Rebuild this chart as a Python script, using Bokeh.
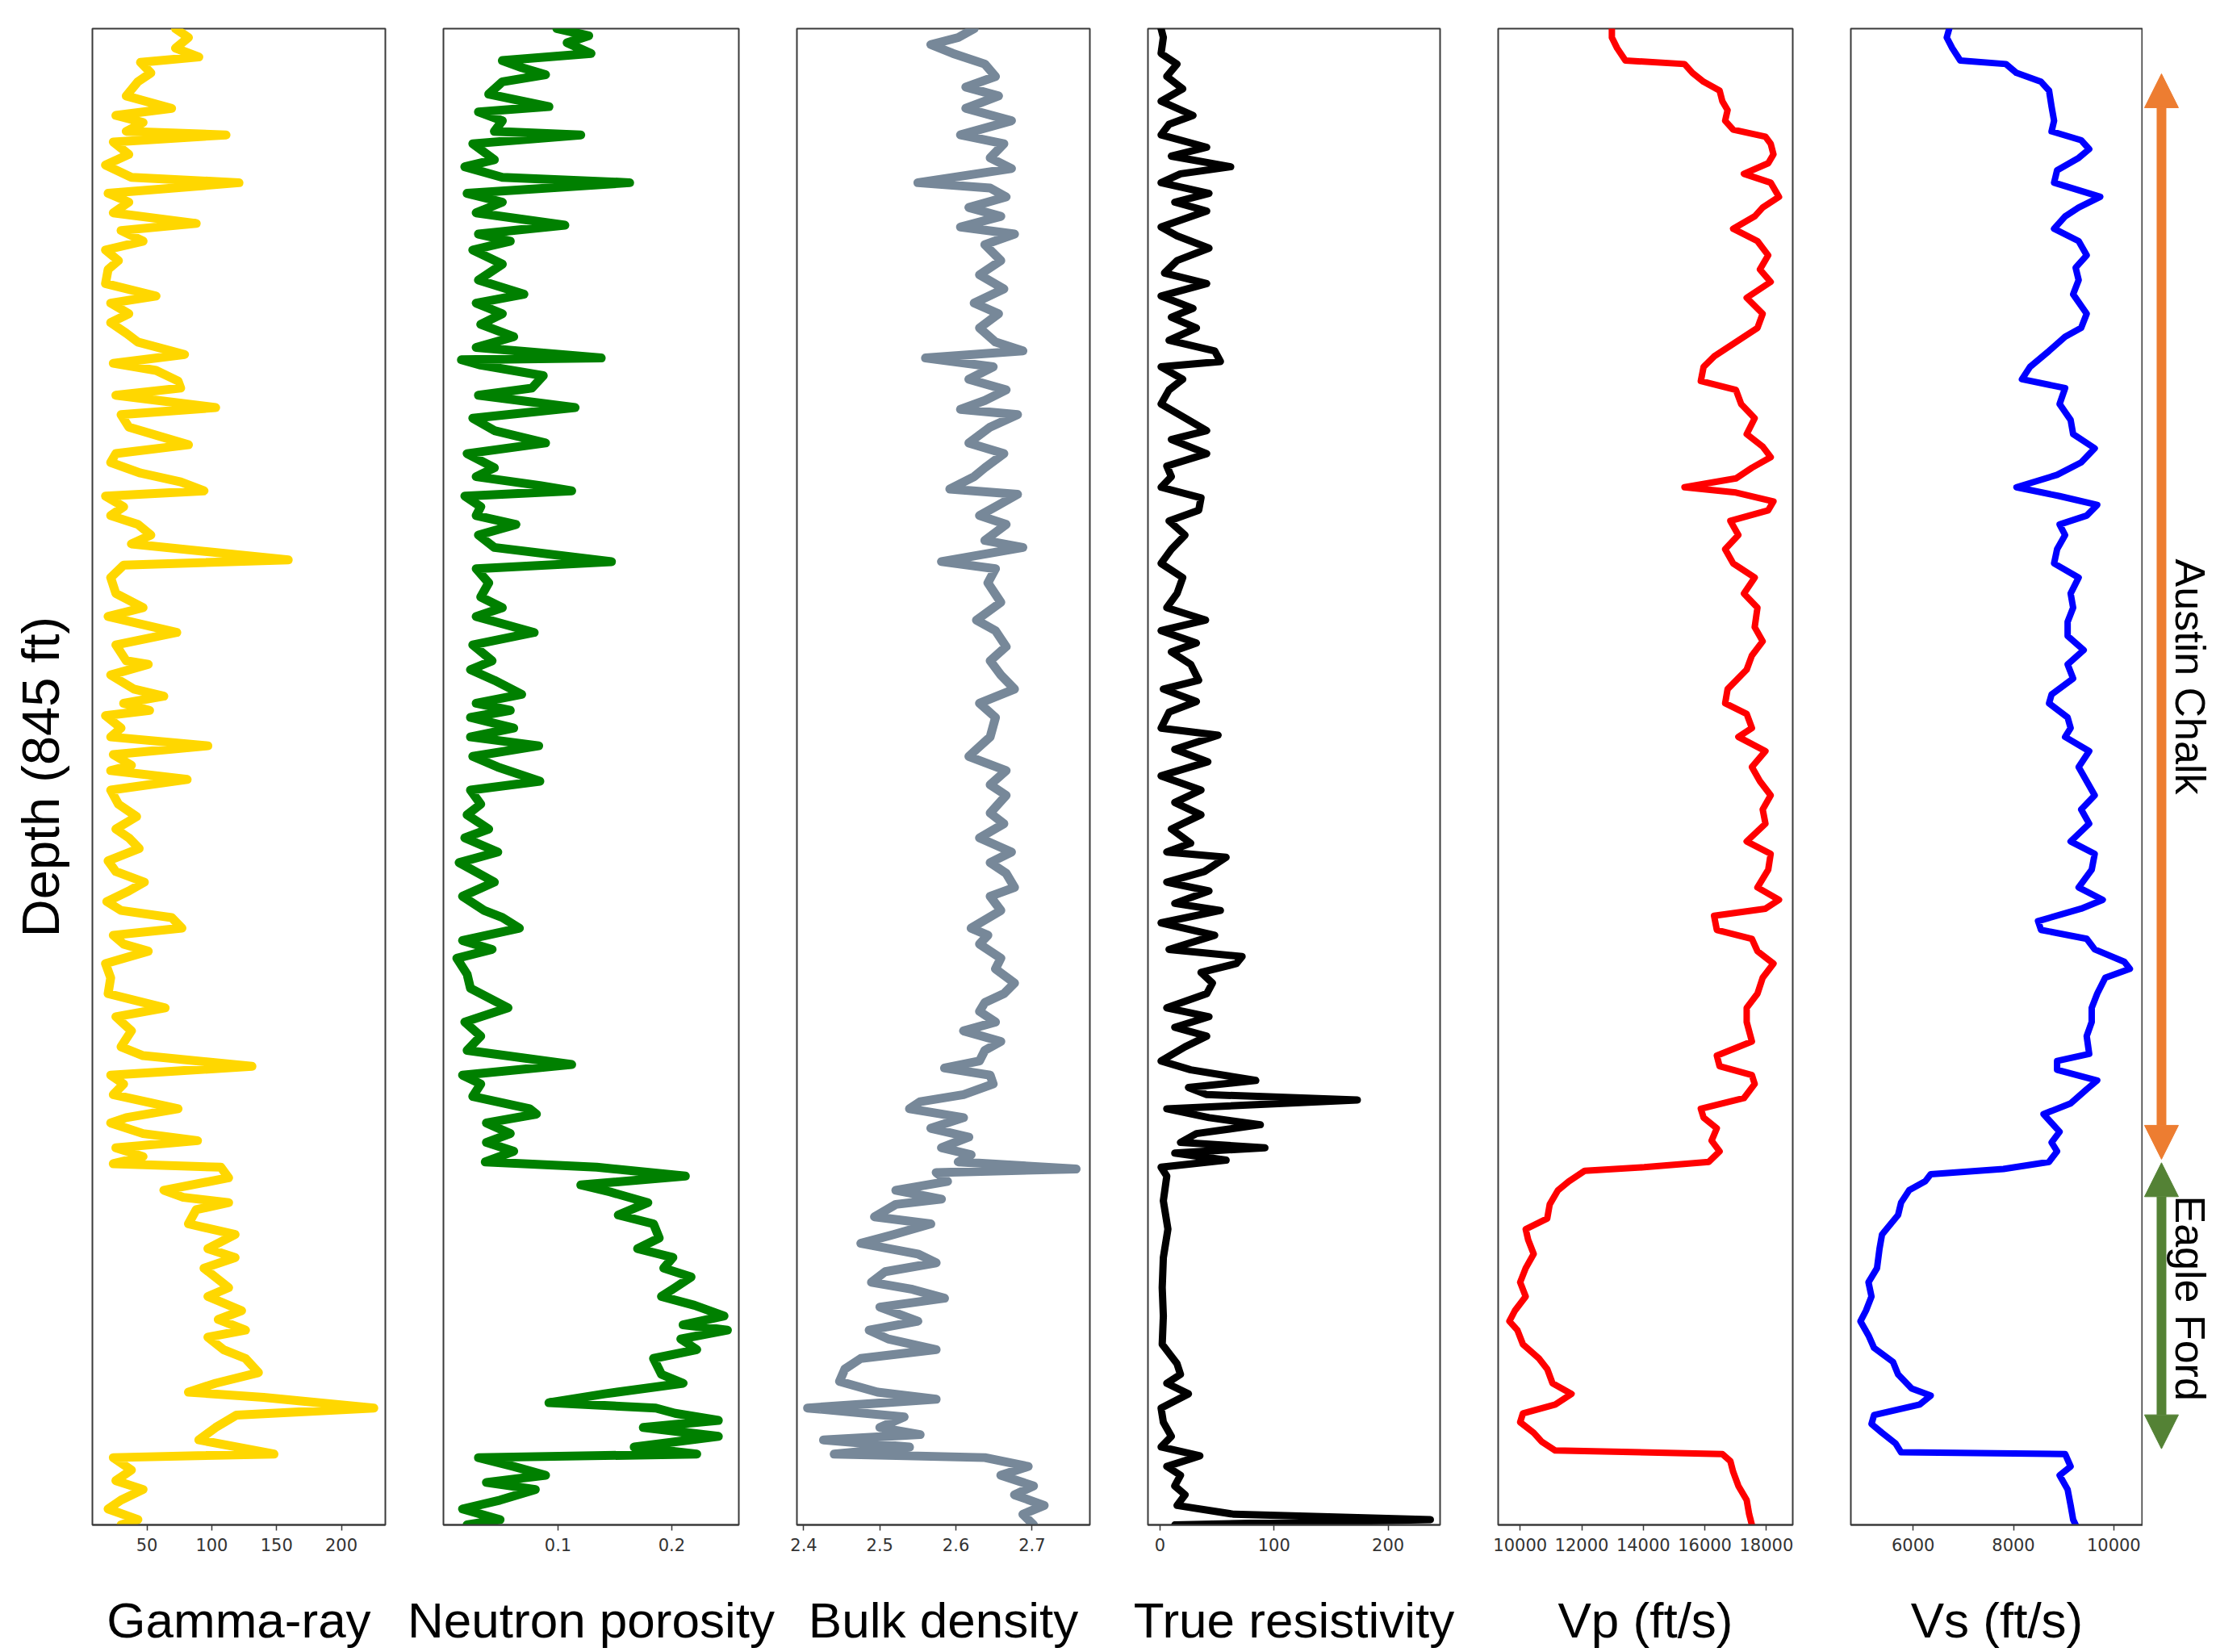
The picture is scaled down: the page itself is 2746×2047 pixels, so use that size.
import math
from bokeh.plotting import figure
from bokeh.layouts import row
from bokeh.models import Range1d, FixedTicker, Label, Arrow, NormalHead
from bokeh.embed import file_html
from bokeh.resources import INLINE

# ---------------- data (depth in ft below top of interval, log value) ----------------
GAMMA_RAY = [(0,72),(5,82),(11,72),(16,90),(19,45),(25,53),(30,43),(38,34),(45,69),(49,26),(53,47),(58,34),(60,111),(64,24),(71,36),(77,18),(84,38),(87,121),(93,20),(98,36),(104,24),(110,88),(114,30),(120,47),(125,18),(131,28),(136,20),(144,18),(151,57),(155,22),(161,36),(166,22),(172,34),(177,43),(184,79),(189,24),(193,57),(199,74),(203,76),(207,26),(214,103),(218,30),(225,36),(235,82),(240,26),(245,22),(251,45),(256,76),(261,94),(264,18),(270,32),(275,22),(280,43),(286,53),(291,38),(300,159),(303,32),(310,22),(319,26),(327,47),(332,20),(341,73),(348,26),(357,34),(359,51),(365,22),(373,40),(377,63),(381,32),(385,52),(388,18),(395,30),(400,22),(405,97),(410,24),(416,38),(419,22),(424,81),(430,22),(438,28),(445,42),(452,26),(457,36),(463,44),(470,20),(476,26),(482,48),(487,36),(493,19),(498,30),(502,69),(508,77),(512,24),(517,32),(521,51),(528,18),(536,22),(545,20),(553,64),(558,26),(566,38),(575,30),(580,47),(586,131),(591,22),(596,32),(602,24),(610,74),(615,34),(618,22),(624,47),(628,89),(632,26),(637,47),(641,24),(643,107),(649,113),(656,63),(660,78),(663,113),(667,88),(675,82),(681,118),(689,97),(694,118),(700,94),(711,113),(716,97),(724,123),(729,105),(735,126),(739,97),(746,109),(751,126),(759,136),(765,103),(770,82),(773,140),(779,225),(783,119),(790,103),(797,90),(801,119),(805,148),(807,24),(814,38),(820,26),(825,47),(831,30),(836,20),(842,43),(845,30)]

NEUTRON_POROSITY = [(0,0.099),(4,0.127),(8,0.108),(14,0.129),(18,0.051),(22,0.068),(26,0.089),(30,0.051),(37,0.039),(44,0.092),(47,0.030),(52,0.051),(58,0.044),(60,0.120),(65,0.025),(74,0.044),(78,0.018),(84,0.051),(87,0.163),(93,0.020),(98,0.051),(104,0.028),(111,0.106),(116,0.030),(120,0.058),(125,0.025),(133,0.051),(142,0.030),(150,0.070),(155,0.028),(161,0.051),(167,0.032),(174,0.061),(180,0.028),(186,0.138),(187,0.015),(190,0.032),(196,0.087),(203,0.077),(207,0.030),(214,0.115),(220,0.025),(227,0.044),(234,0.089),(240,0.020),(248,0.044),(253,0.028),(258,0.084),(261,0.112),(264,0.018),(270,0.032),(275,0.028),(280,0.063),(286,0.030),(293,0.044),(301,0.147),(305,0.028),(313,0.039),(321,0.032),(327,0.051),(332,0.028),(341,0.079),(348,0.025),(357,0.042),(362,0.023),(368,0.044),(376,0.068),(381,0.028),(385,0.058),(389,0.023),(395,0.061),(400,0.023),(405,0.083),(411,0.025),(417,0.047),(425,0.084),(430,0.023),(438,0.032),(444,0.020),(452,0.039),(457,0.018),(465,0.047),(471,0.013),(482,0.044),(490,0.016),(498,0.035),(502,0.051),(508,0.066),(515,0.016),(520,0.042),(525,0.011),(534,0.020),(542,0.023),(553,0.056),(561,0.018),(569,0.032),(577,0.020),(585,0.112),(591,0.016),(596,0.032),(603,0.025),(610,0.075),(613,0.081),(618,0.037),(624,0.058),(629,0.037),(634,0.061),(640,0.036),(643,0.134),(648,0.212),(653,0.120),(657,0.146),(663,0.179),(670,0.153),(675,0.184),(683,0.189),(689,0.170),(694,0.201),(700,0.193),(705,0.217),(711,0.203),(716,0.191),(721,0.220),(727,0.246),(732,0.210),(735,0.249),(740,0.208),(746,0.222),(751,0.184),(760,0.191),(765,0.210),(771,0.141),(776,0.092),(779,0.186),(782,0.203),(786,0.241),(790,0.175),(795,0.241),(801,0.167),(805,0.222),(807,0.030),(812,0.061),(817,0.089),(821,0.037),(825,0.080),(831,0.049),(836,0.016),(842,0.049),(845,0.020)]

BULK_DENSITY = [(0,2.624),(5,2.603),(9,2.567),(14,2.596),(20,2.638),(27,2.652),(33,2.613),(38,2.656),(45,2.613),(52,2.673),(60,2.606),(65,2.663),(73,2.645),(79,2.673),(87,2.550),(90,2.645),(95,2.666),(101,2.617),(106,2.659),(112,2.606),(116,2.677),(122,2.638),(131,2.659),(139,2.631),(147,2.663),(155,2.624),(161,2.656),(169,2.631),(177,2.652),(182,2.688),(186,2.560),(191,2.649),(198,2.617),(204,2.666),(210,2.638),(215,2.606),(218,2.681),(225,2.645),(234,2.617),(240,2.663),(248,2.638),(253,2.624),(260,2.592),(263,2.681),(270,2.652),(275,2.631),(280,2.666),(289,2.638),(293,2.688),(301,2.581),(305,2.652),(313,2.642),(324,2.659),(334,2.627),(340,2.652),(349,2.666),(357,2.645),(365,2.659),(373,2.677),(381,2.631),(389,2.652),(400,2.645),(407,2.627),(411,2.617),(419,2.666),(427,2.645),(433,2.666),(443,2.645),(449,2.663),(457,2.631),(465,2.673),(471,2.645),(477,2.666),(485,2.677),(490,2.645),(498,2.659),(508,2.620),(512,2.642),(517,2.631),(525,2.659),(531,2.652),(539,2.677),(545,2.663),(550,2.638),(555,2.631),(561,2.652),(566,2.610),(572,2.659),(577,2.638),(583,2.631),(587,2.585),(591,2.645),(596,2.649),(602,2.610),(606,2.553),(610,2.539),(615,2.610),(621,2.567),(626,2.617),(632,2.581),(636,2.620),(640,2.603),(644,2.758),(646,2.574),(651,2.589),(656,2.521),(661,2.581),(664,2.521),(671,2.493),(675,2.567),(681,2.518),(686,2.475),(692,2.550),(697,2.574),(702,2.507),(708,2.489),(712,2.543),(717,2.585),(722,2.500),(730,2.550),(735,2.486),(740,2.511),(746,2.574),(751,2.475),(757,2.454),(764,2.447),(770,2.497),(774,2.574),(779,2.405),(784,2.532),(790,2.500),(794,2.553),(797,2.426),(801,2.539),(805,2.440),(807,2.638),(812,2.695),(817,2.659),(823,2.702),(828,2.677),(834,2.716),(839,2.688),(845,2.702)]

TRUE_RESISTIVITY = [(0,1),(5,3),(14,1),(20,15),(27,6),(34,20),(41,1),(49,29),(54,8),(60,1),(67,41),(72,10),(78,62),(82,18),(87,1),(93,43),(98,13),(103,41),(112,1),(117,15),(124,43),(131,15),(138,4),(144,41),(151,1),(158,29),(163,10),(169,32),(176,8),(182,48),(188,53),(191,1),(198,20),(204,8),(212,1),(221,25),(227,41),(232,10),(240,41),(247,6),(253,10),(259,1),(265,36),(272,34),(278,8),(286,22),(294,10),(302,1),(310,20),(319,15),(327,6),(334,40),(340,1),(347,32),(352,10),(359,27),(368,34),(373,3),(380,32),(386,8),(395,1),(399,51),(407,13),(414,42),(422,1),(430,36),(437,13),(444,36),(452,10),(460,27),(465,6),(468,58),(476,39),(482,6),(487,43),(494,13),(498,53),(505,1),(512,48),(520,8),(524,72),(528,67),(533,36),(539,46),(545,41),(553,6),(558,43),(564,13),(569,41),(575,22),(583,1),(588,27),(594,84),(598,25),(602,41),(605,173),(610,6),(615,43),(619,88),(624,32),(629,18),(632,92),(635,13),(639,58),(643,1),(648,6),(662,3),(678,7),(694,3),(711,2),(727,3),(743,2),(754,15),(760,18),(765,6),(771,25),(779,1),(787,3),(795,10),(801,1),(806,35),(812,6),(817,18),(823,13),(828,22),(834,15),(839,65),(842,237),(845,13)]

VP = [(0,12980),(5,12980),(11,13150),(18,13420),(20,15340),(25,15600),(30,15960),(35,16480),(41,16570),(46,16740),(52,16660),(57,16920),(61,17970),(65,18140),(71,18230),(76,18060),(82,17270),(87,18140),(95,18410),(101,17880),(106,17620),(113,16920),(120,17710),(128,18060),(136,17790),(143,18140),(152,17360),(161,17880),(169,17710),(177,17010),(185,16310),(191,15960),(199,15870),(204,17010),(212,17180),(220,17620),(229,17360),(236,17880),(242,18140),(248,17530),(254,17010),(259,15340),(262,17010),(267,18230),(272,18060),(278,16830),(286,17090),(294,16660),(302,16920),(310,17620),(319,17270),(327,17710),(338,17620),(346,17880),(354,17530),(362,17360),(373,16740),(381,16660),(387,17360),(395,17530),(400,17090),(408,17970),(417,17530),(425,17790),(433,18140),(441,17880),(449,17970),(459,17360),(466,18140),(475,18060),(485,17710),(492,18410),(497,17970),(501,16300),(509,16390),(514,17530),(521,17710),(528,18230),(536,17880),(545,17710),(553,17360),(561,17360),(572,17530),(580,16390),(586,16480),(591,17530),(596,17620),(604,17270),(610,15870),(615,15960),(621,16390),(628,16220),(634,16480),(640,16130),(643,14030),(645,12100),(651,11580),(656,11230),(664,10960),(672,10880),(678,10180),(684,10260),(692,10440),(700,10180),(708,10000),(716,10180),(724,9830),(730,9650),(735,9910),(743,10090),(751,10610),(757,10880),(765,11050),(771,11670),(777,11140),(782,10090),(787,10000),(793,10440),(798,10700),(803,11140),(805,16570),(809,16830),(815,16920),(823,17090),(831,17360),(839,17440),(845,17530)]

VS = [(0,6720),(5,6670),(11,6780),(18,6940),(20,7850),(25,8060),(30,8550),(35,8710),(44,8760),(52,8810),(58,8760),(63,9350),(68,9510),(73,9300),(80,8870),(87,8810),(95,9730),(101,9300),(106,9030),(113,8810),(120,9300),(128,9460),(135,9240),(142,9300),(150,9190),(161,9460),(169,9350),(174,9030),(182,8710),(191,8330),(198,8170),(203,9030),(212,8920),(221,9140),(229,9190),(237,9620),(245,9350),(252,8870),(259,8060),(264,8920),(269,9670),(275,9460),(280,8920),(286,9030),(294,8870),(302,8810),(310,9300),(319,9140),(327,9190),(335,9080),(343,9080),(351,9400),(359,9080),(367,9190),(376,8760),(381,8710),(389,9080),(395,9140),(400,9030),(408,9510),(417,9300),(425,9460),(433,9620),(441,9350),(449,9510),(459,9140),(466,9620),(475,9560),(485,9300),(492,9780),(497,9350),(504,8490),(509,8550),(514,9460),(520,9620),(527,10210),(531,10320),(536,9830),(545,9670),(553,9560),(561,9560),(569,9460),(579,9510),(583,8870),(588,8870),(594,9670),(599,9460),(607,9140),(613,8600),(618,8760),(623,8920),(629,8760),(634,8870),(640,8710),(644,7800),(647,6350),(651,6240),(656,5920),(663,5760),(670,5700),(681,5380),(689,5330),(700,5280),(708,5110),(716,5170),(724,5060),(730,4950),(738,5110),(745,5220),(753,5600),(760,5700),(768,5970),(772,6350),(777,6130),(783,5220),(788,5170),(793,5380),(799,5650),(804,5760),(805,9030),(812,9140),(817,8920),(825,9080),(834,9140),(842,9190),(845,9240)]

TRACK_TITLES = ["Gamma-ray", "Neutron porosity", "Bulk density", "True resistivity", "Vp (ft/s)", "Vs (ft/s)"]
TRACK_TICKS = [[50, 100, 150, 200], [0.1, 0.2], [2.4, 2.5, 2.6, 2.7], [0, 100, 200],
               [10000, 12000, 14000, 16000, 18000], [6000, 8000, 10000]]
TRACK_XRANGE = [(7.9, 233.9), (-0.0008, 0.259), (2.391, 2.776), (-10.5, 245.5), (9286, 18856), (4758, 10582)]
TRACK_COLORS = ["#FFD700", "#008000", "#778899", "#000000", "#FF0000", "#0000FF"]
TRACK_DATA = [GAMMA_RAY, NEUTRON_POROSITY, BULK_DENSITY, TRUE_RESISTIVITY, VP, VS]

DEPTH_TOTAL = 845
DEPTH_LABEL = "Depth (845 ft)"
FORMATIONS = ["Austin Chalk", "Eagle Ford"]
FORMATION_TOP = [25.5, 640.5]
FORMATION_BASE = [638.5, 802]
FORMATION_COLORS = ["#ED7D31", "#548235"]

# ---------------- layout constants ----------------
FRAME_H = 1854
TOP_B = 35
BOT_B = 158
frame_widths = [363, 366, 363, 362, 365, 362]
left_b = [114, 56, 16, 36, 36, 36]
right_b = [16, 56, 36, 36, 36, 0]
line_widths = [11, 11, 11, 9, 8, 8]
label_font = "Liberation Sans"

depth_range = Range1d(DEPTH_TOTAL, 0)

figs = []
for i in range(6):
    lo, hi = TRACK_XRANGE[i]
    p = figure(frame_width=frame_widths[i], frame_height=FRAME_H,
               x_range=Range1d(lo, hi), y_range=depth_range,
               output_backend="svg", toolbar_location=None,
               min_border_left=left_b[i], min_border_right=right_b[i],
               min_border_top=TOP_B, min_border_bottom=BOT_B,
               y_axis_location=("left" if i == 0 else None))
    p.xgrid.visible = False
    p.ygrid.visible = False
    p.outline_line_color = "#3a3a3a"
    p.outline_line_width = 2
    p.background_fill_color = "white"
    p.border_fill_color = "white"
    ax = p.xaxis[0]
    ax.ticker = FixedTicker(ticks=TRACK_TICKS[i])
    ax.minor_tick_line_color = None
    ax.major_tick_out = 7
    ax.major_tick_in = 0
    ax.major_tick_line_color = "#3a3a3a"
    ax.major_tick_line_width = 1.5
    ax.axis_line_color = "#3a3a3a"
    ax.axis_line_width = 2
    ax.major_label_text_font = "DejaVu Sans"
    ax.major_label_text_font_size = "21px"
    ax.major_label_text_color = "#333333"
    ax.major_label_standoff = 9
    ax.axis_label = TRACK_TITLES[i]
    ax.axis_label_text_font = label_font
    ax.axis_label_text_font_style = "normal"
    ax.axis_label_text_font_size = "62px"
    ax.axis_label_text_color = "black"
    ax.axis_label_standoff = 48

    if i == 0:
        ay = p.yaxis[0]
        ay.ticker = FixedTicker(ticks=[])
        ay.major_tick_line_color = None
        ay.minor_tick_line_color = None
        ay.axis_line_color = None
        ay.major_label_text_font_size = "0px"
        ay.axis_label = DEPTH_LABEL
        ay.axis_label_text_font = label_font
        ay.axis_label_text_font_style = "normal"
        ay.axis_label_text_font_size = "65px"
        ay.axis_label_text_color = "black"
        ay.axis_label_standoff = 28

    d = [r[0] for r in TRACK_DATA[i]]
    v = [r[1] for r in TRACK_DATA[i]]
    p.line(x=v, y=d, line_color=TRACK_COLORS[i], line_width=line_widths[i],
           line_join="round", line_cap="round")
    figs.append(p)

# formation annotation track
pf = figure(frame_width=89, frame_height=FRAME_H, x_range=Range1d(0, 1), y_range=depth_range,
            output_backend="svg", toolbar_location=None,
            min_border_left=0, min_border_right=0, min_border_top=TOP_B, min_border_bottom=BOT_B,
            x_axis_location=None, y_axis_location=None)
pf.xgrid.visible = False
pf.ygrid.visible = False
pf.outline_line_color = None
pf.border_fill_color = "white"
label_depths = [366, 717]
for name, top, base, col, ld in zip(FORMATIONS, FORMATION_TOP, FORMATION_BASE, FORMATION_COLORS, label_depths):
    pf.add_layout(Arrow(x_start=0.258, y_start=top, x_end=0.258, y_end=base,
                        line_color=col, line_width=12,
                        start=NormalHead(size=42, fill_color=col, line_color=col),
                        end=NormalHead(size=42, fill_color=col, line_color=col)))
    pf.add_layout(Label(x=0.655, y=ld, text=name, angle=-math.pi / 2,
                        text_font=label_font, text_font_size="52px",
                        text_align="center", text_baseline="middle", text_color="black"))
figs.append(pf)

layout = row(*figs, spacing=0)
open("out.html", "w").write(file_html(layout, INLINE))
